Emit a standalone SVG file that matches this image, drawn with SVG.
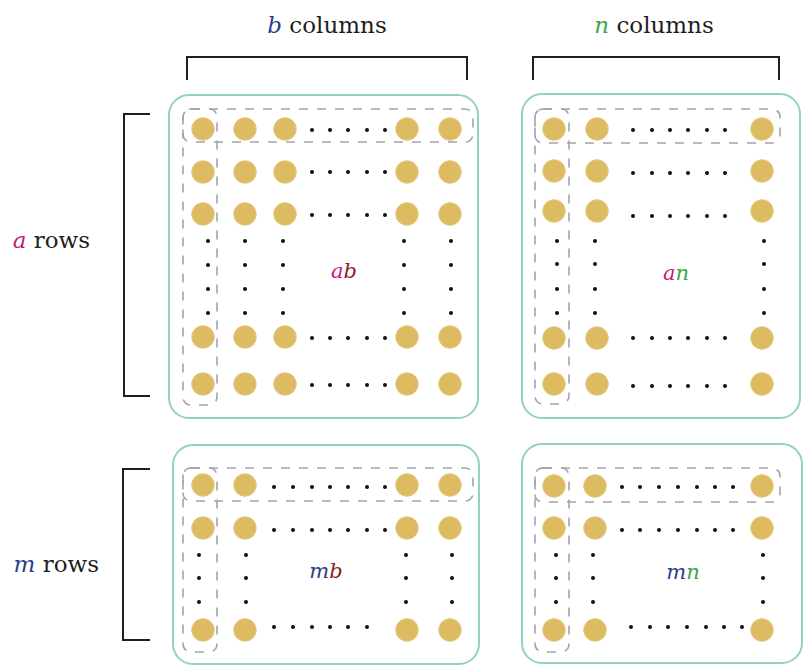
<svg xmlns="http://www.w3.org/2000/svg" width="806" height="667" viewBox="0 0 806 667">
<style>
.panel{fill:#fff;stroke:#93d3b8;stroke-width:2}
.dash{fill:none;stroke:#a3a3ab;stroke-width:1.6;stroke-dasharray:9 9}
.br{fill:none;stroke:#1e1e1e;stroke-width:2}
.c{fill:#dcbb63;stroke:#e6c979;stroke-width:1}
.d{fill:#111}
.t{font-family:"DejaVu Serif","Liberation Serif",serif;font-size:23px;fill:#1e1e1e}
.lab{font-family:"DejaVu Serif","Liberation Serif",serif;font-size:21px;font-style:italic}
.i{font-style:italic}
.mag{fill:#c2187e}
.navy{fill:#2a3d8c}
.grn{fill:#3aa648}
.red{fill:#8b1c24}
</style>
<rect width="806" height="667" fill="#fff"/>
<g id="connectors">
<path class="br" d="M187 80 V57 H467 V80"/>
<path class="br" d="M533 80 V57 H779 V80"/>
<path class="br" d="M150 114 H124 V396 H150"/>
<path class="br" d="M150 469 H123 V640 H150"/>
</g>
<g id="label-b-columns"><text class="t" x="327" y="33" text-anchor="middle"><tspan class="i navy">b</tspan> columns</text></g>
<g id="label-n-columns"><text class="t" x="654" y="33" text-anchor="middle"><tspan class="i grn">n</tspan> columns</text></g>
<g id="label-a-rows"><text class="t" x="90" y="248" text-anchor="end"><tspan class="i mag">a</tspan> rows</text></g>
<g id="label-m-rows"><text class="t" x="99" y="572" text-anchor="end"><tspan class="i navy">m</tspan> rows</text></g>

<g id="panel-ab">
<rect class="panel" x="169" y="95" width="309" height="323" rx="20"/>
<g>
<circle class="c" cx="203" cy="129" r="11.3"/><circle class="c" cx="245" cy="129" r="11.3"/><circle class="c" cx="285" cy="129" r="11.3"/><circle class="c" cx="407" cy="129" r="11.3"/><circle class="c" cx="450" cy="129" r="11.3"/>
<circle class="c" cx="203" cy="172" r="11.3"/><circle class="c" cx="245" cy="172" r="11.3"/><circle class="c" cx="285" cy="172" r="11.3"/><circle class="c" cx="407" cy="172" r="11.3"/><circle class="c" cx="450" cy="172" r="11.3"/>
<circle class="c" cx="203" cy="214" r="11.3"/><circle class="c" cx="245" cy="214" r="11.3"/><circle class="c" cx="285" cy="214" r="11.3"/><circle class="c" cx="407" cy="214" r="11.3"/><circle class="c" cx="450" cy="214" r="11.3"/>
<circle class="c" cx="203" cy="337" r="11.3"/><circle class="c" cx="245" cy="337" r="11.3"/><circle class="c" cx="285" cy="337" r="11.3"/><circle class="c" cx="407" cy="337" r="11.3"/><circle class="c" cx="450" cy="337" r="11.3"/>
<circle class="c" cx="203" cy="384" r="11.3"/><circle class="c" cx="245" cy="384" r="11.3"/><circle class="c" cx="285" cy="384" r="11.3"/><circle class="c" cx="407" cy="384" r="11.3"/><circle class="c" cx="450" cy="384" r="11.3"/>
</g>
<g>
<circle class="d" cx="312" cy="130" r="2"/><circle class="d" cx="330" cy="130" r="2"/><circle class="d" cx="348" cy="130" r="2"/><circle class="d" cx="367" cy="130" r="2"/><circle class="d" cx="385" cy="130" r="2"/>
<circle class="d" cx="312" cy="172" r="2"/><circle class="d" cx="330" cy="172" r="2"/><circle class="d" cx="348" cy="172" r="2"/><circle class="d" cx="367" cy="172" r="2"/><circle class="d" cx="385" cy="172" r="2"/>
<circle class="d" cx="312" cy="215" r="2"/><circle class="d" cx="330" cy="215" r="2"/><circle class="d" cx="348" cy="215" r="2"/><circle class="d" cx="367" cy="215" r="2"/><circle class="d" cx="385" cy="215" r="2"/>
<circle class="d" cx="312" cy="338" r="2"/><circle class="d" cx="330" cy="338" r="2"/><circle class="d" cx="348" cy="338" r="2"/><circle class="d" cx="367" cy="338" r="2"/><circle class="d" cx="385" cy="338" r="2"/>
<circle class="d" cx="312" cy="385" r="2"/><circle class="d" cx="330" cy="385" r="2"/><circle class="d" cx="348" cy="385" r="2"/><circle class="d" cx="367" cy="385" r="2"/><circle class="d" cx="385" cy="385" r="2"/>
<circle class="d" cx="208" cy="241" r="2"/><circle class="d" cx="245" cy="241" r="2"/><circle class="d" cx="283" cy="241" r="2"/><circle class="d" cx="404" cy="241" r="2"/><circle class="d" cx="451" cy="241" r="2"/>
<circle class="d" cx="208" cy="265" r="2"/><circle class="d" cx="245" cy="265" r="2"/><circle class="d" cx="283" cy="265" r="2"/><circle class="d" cx="404" cy="265" r="2"/><circle class="d" cx="451" cy="265" r="2"/>
<circle class="d" cx="208" cy="289" r="2"/><circle class="d" cx="245" cy="289" r="2"/><circle class="d" cx="283" cy="289" r="2"/><circle class="d" cx="404" cy="289" r="2"/><circle class="d" cx="451" cy="289" r="2"/>
<circle class="d" cx="208" cy="313" r="2"/><circle class="d" cx="245" cy="313" r="2"/><circle class="d" cx="283" cy="313" r="2"/><circle class="d" cx="404" cy="313" r="2"/><circle class="d" cx="451" cy="313" r="2"/>
</g>
<rect class="dash" x="183" y="109" width="290" height="33" rx="8"/>
<rect class="dash" x="183" y="109" width="34" height="296" rx="8"/>
<text class="lab" x="344" y="278" text-anchor="middle"><tspan class="mag">a</tspan><tspan class="red">b</tspan></text>
</g>

<g id="panel-an">
<rect class="panel" x="522" y="94" width="278" height="324" rx="20"/>
<g>
<circle class="c" cx="554" cy="129" r="11.3"/><circle class="c" cx="597" cy="129" r="11.3"/><circle class="c" cx="762" cy="129" r="11.3"/>
<circle class="c" cx="554" cy="171" r="11.3"/><circle class="c" cx="597" cy="171" r="11.3"/><circle class="c" cx="762" cy="171" r="11.3"/>
<circle class="c" cx="554" cy="211" r="11.3"/><circle class="c" cx="597" cy="211" r="11.3"/><circle class="c" cx="762" cy="211" r="11.3"/>
<circle class="c" cx="554" cy="338" r="11.3"/><circle class="c" cx="597" cy="338" r="11.3"/><circle class="c" cx="762" cy="338" r="11.3"/>
<circle class="c" cx="554" cy="384" r="11.3"/><circle class="c" cx="597" cy="384" r="11.3"/><circle class="c" cx="762" cy="384" r="11.3"/>
</g>
<g>
<circle class="d" cx="633" cy="130" r="2"/><circle class="d" cx="652" cy="130" r="2"/><circle class="d" cx="670" cy="130" r="2"/><circle class="d" cx="688" cy="130" r="2"/><circle class="d" cx="707" cy="130" r="2"/><circle class="d" cx="725" cy="130" r="2"/>
<circle class="d" cx="633" cy="173" r="2"/><circle class="d" cx="652" cy="173" r="2"/><circle class="d" cx="670" cy="173" r="2"/><circle class="d" cx="688" cy="173" r="2"/><circle class="d" cx="707" cy="173" r="2"/><circle class="d" cx="725" cy="173" r="2"/>
<circle class="d" cx="633" cy="216" r="2"/><circle class="d" cx="652" cy="216" r="2"/><circle class="d" cx="670" cy="216" r="2"/><circle class="d" cx="688" cy="216" r="2"/><circle class="d" cx="707" cy="216" r="2"/><circle class="d" cx="725" cy="216" r="2"/>
<circle class="d" cx="633" cy="338" r="2"/><circle class="d" cx="652" cy="338" r="2"/><circle class="d" cx="670" cy="338" r="2"/><circle class="d" cx="688" cy="338" r="2"/><circle class="d" cx="707" cy="338" r="2"/><circle class="d" cx="725" cy="338" r="2"/>
<circle class="d" cx="633" cy="386" r="2"/><circle class="d" cx="652" cy="386" r="2"/><circle class="d" cx="670" cy="386" r="2"/><circle class="d" cx="688" cy="386" r="2"/><circle class="d" cx="707" cy="386" r="2"/><circle class="d" cx="725" cy="386" r="2"/>
<circle class="d" cx="557" cy="241" r="2"/><circle class="d" cx="595" cy="241" r="2"/><circle class="d" cx="764" cy="241" r="2"/>
<circle class="d" cx="557" cy="264" r="2"/><circle class="d" cx="595" cy="264" r="2"/><circle class="d" cx="764" cy="264" r="2"/>
<circle class="d" cx="557" cy="289" r="2"/><circle class="d" cx="595" cy="289" r="2"/><circle class="d" cx="764" cy="289" r="2"/>
<circle class="d" cx="557" cy="313" r="2"/><circle class="d" cx="595" cy="313" r="2"/><circle class="d" cx="764" cy="313" r="2"/>
</g>
<rect class="dash" x="535" y="109" width="245" height="34" rx="8"/>
<rect class="dash" x="535" y="109" width="34" height="295" rx="8"/>
<text class="lab" x="676" y="280" text-anchor="middle"><tspan class="mag">a</tspan><tspan class="grn">n</tspan></text>
</g>

<g id="panel-mb">
<rect class="panel" x="173" y="445" width="306" height="219" rx="20"/>
<g>
<circle class="c" cx="203" cy="485" r="11.3"/><circle class="c" cx="245" cy="485" r="11.3"/><circle class="c" cx="407" cy="485" r="11.3"/><circle class="c" cx="450" cy="485" r="11.3"/>
<circle class="c" cx="203" cy="528" r="11.3"/><circle class="c" cx="245" cy="528" r="11.3"/><circle class="c" cx="407" cy="528" r="11.3"/><circle class="c" cx="450" cy="528" r="11.3"/>
<circle class="c" cx="203" cy="630" r="11.3"/><circle class="c" cx="245" cy="630" r="11.3"/><circle class="c" cx="407" cy="630" r="11.3"/><circle class="c" cx="450" cy="630" r="11.3"/>
</g>
<g>
<circle class="d" cx="274" cy="487" r="2"/><circle class="d" cx="293" cy="487" r="2"/><circle class="d" cx="312" cy="487" r="2"/><circle class="d" cx="330" cy="487" r="2"/><circle class="d" cx="348" cy="487" r="2"/><circle class="d" cx="367" cy="487" r="2"/><circle class="d" cx="385" cy="487" r="2"/>
<circle class="d" cx="274" cy="530" r="2"/><circle class="d" cx="293" cy="530" r="2"/><circle class="d" cx="312" cy="530" r="2"/><circle class="d" cx="330" cy="530" r="2"/><circle class="d" cx="348" cy="530" r="2"/><circle class="d" cx="367" cy="530" r="2"/><circle class="d" cx="385" cy="530" r="2"/>
<circle class="d" cx="274" cy="627" r="2"/><circle class="d" cx="293" cy="627" r="2"/><circle class="d" cx="312" cy="627" r="2"/><circle class="d" cx="330" cy="627" r="2"/><circle class="d" cx="348" cy="627" r="2"/><circle class="d" cx="367" cy="627" r="2"/>
<circle class="d" cx="199" cy="555" r="2"/><circle class="d" cx="246" cy="555" r="2"/><circle class="d" cx="406" cy="555" r="2"/><circle class="d" cx="452" cy="555" r="2"/>
<circle class="d" cx="199" cy="578" r="2"/><circle class="d" cx="246" cy="578" r="2"/><circle class="d" cx="406" cy="578" r="2"/><circle class="d" cx="452" cy="578" r="2"/>
<circle class="d" cx="199" cy="602" r="2"/><circle class="d" cx="246" cy="602" r="2"/><circle class="d" cx="406" cy="602" r="2"/><circle class="d" cx="452" cy="602" r="2"/>
</g>
<rect class="dash" x="183" y="468" width="290" height="33" rx="8"/>
<rect class="dash" x="183" y="468" width="34" height="184" rx="8"/>
<text class="lab" x="326" y="578" text-anchor="middle"><tspan class="navy">m</tspan><tspan class="red">b</tspan></text>
</g>

<g id="panel-mn">
<rect class="panel" x="522" y="444" width="280" height="219" rx="20"/>
<g>
<circle class="c" cx="554" cy="486" r="11.3"/><circle class="c" cx="595" cy="486" r="11.3"/><circle class="c" cx="762" cy="486" r="11.3"/>
<circle class="c" cx="554" cy="528" r="11.3"/><circle class="c" cx="595" cy="528" r="11.3"/><circle class="c" cx="762" cy="528" r="11.3"/>
<circle class="c" cx="554" cy="630" r="11.3"/><circle class="c" cx="595" cy="630" r="11.3"/><circle class="c" cx="762" cy="630" r="11.3"/>
</g>
<g>
<circle class="d" cx="622" cy="487" r="2"/><circle class="d" cx="640" cy="487" r="2"/><circle class="d" cx="659" cy="487" r="2"/><circle class="d" cx="678" cy="487" r="2"/><circle class="d" cx="697" cy="487" r="2"/><circle class="d" cx="715" cy="487" r="2"/><circle class="d" cx="733" cy="487" r="2"/>
<circle class="d" cx="622" cy="530" r="2"/><circle class="d" cx="640" cy="530" r="2"/><circle class="d" cx="659" cy="530" r="2"/><circle class="d" cx="678" cy="530" r="2"/><circle class="d" cx="697" cy="530" r="2"/><circle class="d" cx="715" cy="530" r="2"/><circle class="d" cx="733" cy="530" r="2"/>
<circle class="d" cx="631" cy="627" r="2"/><circle class="d" cx="650" cy="627" r="2"/><circle class="d" cx="668" cy="627" r="2"/><circle class="d" cx="687" cy="627" r="2"/><circle class="d" cx="706" cy="627" r="2"/><circle class="d" cx="724" cy="627" r="2"/><circle class="d" cx="742" cy="627" r="2"/>
<circle class="d" cx="556" cy="555" r="2"/><circle class="d" cx="593" cy="555" r="2"/><circle class="d" cx="763" cy="555" r="2"/>
<circle class="d" cx="556" cy="578" r="2"/><circle class="d" cx="593" cy="578" r="2"/><circle class="d" cx="763" cy="578" r="2"/>
<circle class="d" cx="556" cy="602" r="2"/><circle class="d" cx="593" cy="602" r="2"/><circle class="d" cx="763" cy="602" r="2"/>
</g>
<rect class="dash" x="535" y="468" width="245" height="34" rx="8"/>
<rect class="dash" x="535" y="468" width="34" height="184" rx="8"/>
<text class="lab" x="683" y="579" text-anchor="middle"><tspan class="navy">m</tspan><tspan class="grn">n</tspan></text>
</g>
</svg>
